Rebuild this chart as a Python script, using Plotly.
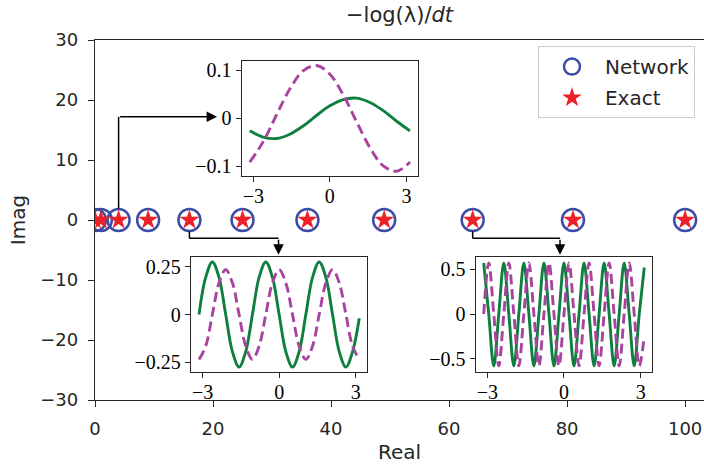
import plotly.graph_objects as go

# ---------------- data ----------------
network_real = [0, 1, 4, 9, 16, 25, 36, 49, 64, 81, 100]
network_imag = [0, 0, 0, 0, 0, 0, 0, 0, 0, 0, 0]
exact_real = [0, 1, 4, 9, 16, 25, 36, 49, 64, 81, 100]
exact_imag = [0, 0, 0, 0, 0, 0, 0, 0, 0, 0, 0]

x_ticks_main = [0, 20, 40, 60, 80, 100]
y_ticks_main = [-30, -20, -10, 0, 10, 20, 30]

# inset 1 (eigenfunction pair, one period)
inset1_x = [-3.1416, -2.618, -2.0944, -1.5708, -1.0472, -0.5236, 0.0,
            0.5236, 1.0472, 1.5708, 2.0944, 2.618, 3.1416]
inset1_green = [-0.026, -0.039, -0.042, -0.033, -0.016, 0.006, 0.026,
                0.039, 0.042, 0.033, 0.016, -0.006, -0.026]
inset1_purple = [-0.091, -0.049, 0.007, 0.061, 0.099, 0.110, 0.092,
                 0.049, -0.007, -0.061, -0.099, -0.110, -0.091]

# inset 2 (three periods)
inset2_x = [-3.1416, -2.8798, -2.618, -2.3562, -2.0944, -1.8326, -1.5708,
            -1.309, -1.0472, -0.7854, -0.5236, -0.2618, 0.0, 0.2618, 0.5236,
            0.7854, 1.0472, 1.309, 1.5708, 1.8326, 2.0944, 2.3562, 2.618,
            2.8798, 3.1416]
inset2_green = [0.0, 0.194, 0.275, 0.194, 0.0, -0.194, -0.275, -0.194,
                0.0, 0.194, 0.275, 0.194, 0.0, -0.194, -0.275, -0.194,
                0.0, 0.194, 0.275, 0.194, 0.0, -0.194, -0.275, -0.194, -0.02]
inset2_purple = [-0.235, -0.166, 0.0, 0.166, 0.235, 0.166, 0.0, -0.166,
                 -0.235, -0.166, 0.0, 0.166, 0.235, 0.166, 0.0, -0.166,
                 -0.235, -0.166, 0.0, 0.166, 0.235, 0.166, 0.0, -0.166, -0.235]

# inset 3 (eight periods)
inset3_x = [-3.1416, -2.9452, -2.7489, -2.5525, -2.3562, -2.1598, -1.9635,
            -1.7671, -1.5708, -1.3744, -1.1781, -0.9817, -0.7854, -0.589,
            -0.3927, -0.1963, 0.0, 0.1963, 0.3927, 0.589, 0.7854, 0.9817,
            1.1781, 1.3744, 1.5708, 1.7671, 1.9635, 2.1598, 2.3562, 2.5525,
            2.7489, 2.9452, 3.1416]
inset3_green = [0.57, 0.0, -0.58, 0.0, 0.57, 0.0, -0.58, 0.0, 0.57, 0.0,
                -0.58, 0.0, 0.57, 0.0, -0.58, 0.0, 0.57, 0.0, -0.58, 0.0,
                0.57, 0.0, -0.58, 0.0, 0.57, 0.0, -0.58, 0.0, 0.57, 0.0,
                -0.58, 0.0, 0.52]
inset3_purple = [0.0, 0.57, 0.0, -0.58, 0.0, 0.57, 0.0, -0.58, 0.0, 0.57,
                 0.0, -0.58, 0.0, 0.57, 0.0, -0.58, 0.0, 0.57, 0.0, -0.58,
                 0.0, 0.57, 0.0, -0.58, 0.0, 0.57, 0.0, -0.58, 0.0, 0.57,
                 0.0, -0.58, -0.25]

inset_x_ticks = [-3, 0, 3]
inset_x_labels = ["\u22123", "0", "3"]
inset1_y_ticks = [-0.1, 0, 0.1]
inset1_y_labels = ["\u22120.1", "0", "0.1"]
inset2_y_ticks = [-0.25, 0, 0.25]
inset2_y_labels = ["\u22120.25", "0", "0.25"]
inset3_y_ticks = [-0.5, 0, 0.5]
inset3_y_labels = ["\u22120.5", "0", "0.5"]

# ---------------- styles ----------------
INK = "#262626"
GREEN = "#0f7f3f"
PURPLE = "#a8449e"
BLUE = "#3b4ca6"
RED = "#ee2128"
SANS = "DejaVu Sans"
SERIF = "'Liberation Serif', 'Times New Roman', serif"

fig = go.Figure()

fig.add_trace(go.Scatter(
    x=network_real, y=network_imag, mode="markers", name="Network",
    marker=dict(symbol="circle-open", size=22, color=BLUE, line=dict(width=2.5, color=BLUE)),
    legendgroup="a", xaxis="x", yaxis="y"))
fig.add_trace(go.Scatter(
    x=exact_real, y=exact_imag, mode="markers", name="Exact",
    marker=dict(symbol="star", size=15, color=RED, line=dict(width=0)),
    legendgroup="b", xaxis="x", yaxis="y"))

insets = [
    (inset1_x, inset1_green, inset1_purple, "2"),
    (inset2_x, inset2_green, inset2_purple, "3"),
    (inset3_x, inset3_green, inset3_purple, "4"),
]
for xs, g, p, k in insets:
    fig.add_trace(go.Scatter(x=xs, y=g, mode="lines", showlegend=False,
                             line=dict(color=GREEN, width=2.9, shape="spline", smoothing=1.0),
                             xaxis="x" + k, yaxis="y" + k))
    fig.add_trace(go.Scatter(x=xs, y=p, mode="lines", showlegend=False,
                             line=dict(color=PURPLE, width=2.9, dash="10px,5px", shape="spline", smoothing=1.0),
                             xaxis="x" + k, yaxis="y" + k))

main_axis = dict(showline=True, linecolor=INK, linewidth=1.3, ticks="outside",
                 ticklen=6, tickwidth=1.3, tickcolor=INK, showgrid=False, zeroline=False,
                 tickfont=dict(family=SANS, size=18, color=INK), ticklabelstandoff=6)

inset_axis = dict(showline=True, mirror=True, linecolor=INK, linewidth=1.3, ticks="outside",
                  ticklen=5, tickwidth=1.3, tickcolor=INK, showgrid=False, zeroline=False,
                  tickfont=dict(family=SERIF, size=20, color="black"))

layout = dict(
    width=704, height=464,
    margin=dict(l=95, r=0, t=40, b=64),
    paper_bgcolor="white", plot_bgcolor="white",
    title=dict(text="\u2212log(\u03bb)/<i>dt</i>", x=0.5, xref="paper", xanchor="center",
               y=1 - 15 / 464, yref="container", yanchor="middle",
               font=dict(family=SANS, size=21, color=INK)),
    xaxis=dict(main_axis, range=[0, 103.2], tickvals=x_ticks_main, mirror=True, domain=[0, 1],
               title=dict(text="Real", font=dict(family=SANS, size=20, color=INK), standoff=10)),
    yaxis=dict(main_axis, range=[-30, 30], tickvals=y_ticks_main, domain=[0, 1],
               title=dict(text="Imag", font=dict(family=SANS, size=20, color=INK), standoff=9)),
    xaxis2=dict(inset_axis, domain=[0.2409, 0.5304], anchor="y2", range=[-3.456, 3.456],
                tickvals=inset_x_ticks, ticktext=inset_x_labels, ticklabelstandoff=-3),
    yaxis2=dict(inset_axis, domain=[0.6222, 0.9425], anchor="x2", range=[-0.12, 0.12],
                tickvals=inset1_y_ticks, ticktext=inset1_y_labels),
    xaxis3=dict(inset_axis, domain=[0.1576, 0.4471], anchor="y3", range=[-3.456, 3.456],
                tickvals=inset_x_ticks, ticktext=inset_x_labels, ticklabelstandoff=-3),
    yaxis3=dict(inset_axis, domain=[0.0769, 0.3981], anchor="x3", range=[-0.3025, 0.3025],
                tickvals=inset2_y_ticks, ticktext=inset2_y_labels),
    xaxis4=dict(inset_axis, domain=[0.6251, 0.9151], anchor="y4", range=[-3.456, 3.456],
                tickvals=inset_x_ticks, ticktext=inset_x_labels, ticklabelstandoff=-3),
    yaxis4=dict(inset_axis, domain=[0.0769, 0.3964], anchor="x4", range=[-0.652, 0.634],
                tickvals=inset3_y_ticks, ticktext=inset3_y_labels),
    legend=dict(x=0.7274, y=0.983, xanchor="left", yanchor="top", bgcolor="white",
                bordercolor="#cccccc", borderwidth=1, font=dict(family=SANS, size=20, color=INK),
                itemwidth=56, tracegroupgap=2),
    showlegend=True,
)
fig.update_layout(**layout)

# connector arrows (data coordinates of the main axes)
arrow_paths = [
    dict(x0=4, y0=1.9, ycorner=17.2, xhead=20.7, yhead=17.2, horizontal=True),
    dict(x0=16, y0=-1.9, ycorner=-3.05, xhead=31.1, yhead=-5.8, horizontal=False),
    dict(x0=64, y0=-1.9, ycorner=-3.05, xhead=78.8, yhead=-5.8, horizontal=False),
]
for a in arrow_paths:
    fig.add_shape(type="line", xref="x", yref="y", x0=a["x0"], y0=a["y0"], x1=a["x0"], y1=a["ycorner"],
                  line=dict(color="black", width=1.5))
    if a["horizontal"]:
        tail = (a["x0"], a["ycorner"])
    else:
        fig.add_shape(type="line", xref="x", yref="y", x0=a["x0"], y0=a["ycorner"], x1=a["xhead"],
                      y1=a["ycorner"], line=dict(color="black", width=1.5))
        tail = (a["xhead"], a["ycorner"])
    fig.add_annotation(x=a["xhead"], y=a["yhead"], ax=tail[0], ay=tail[1], xref="x", yref="y",
                       axref="x", ayref="y", showarrow=True, arrowhead=2, arrowsize=1.4,
                       arrowwidth=1.5, arrowcolor="black", standoff=0, text="")

fig.write_html("out.html")
